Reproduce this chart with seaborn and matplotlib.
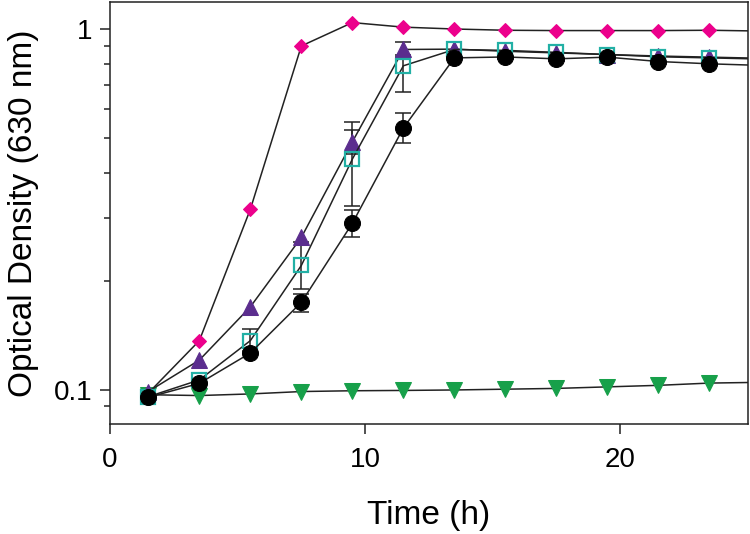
import numpy as np
import matplotlib
matplotlib.use('Agg')
import matplotlib.pyplot as plt
import seaborn as sns
from matplotlib.ticker import FixedLocator, NullFormatter

sns.set_style('ticks')
plt.rcParams['font.family'] = ['Liberation Sans', 'DejaVu Sans']
plt.rcParams['text.color'] = 'black'
plt.rcParams['axes.labelcolor'] = 'black'
plt.rcParams['xtick.labelcolor'] = 'black'
plt.rcParams['ytick.labelcolor'] = 'black'

# growth curves, OD630 (last point sits just past the axis)
time = [1.5, 3.5, 5.5, 7.5, 9.5, 11.5, 13.5, 15.5, 17.5, 19.5, 21.5, 23.5, 25.5]
pink = [0.098, 0.137, 0.317, 0.90, 1.045, 1.015, 1.003, 0.995, 0.993, 0.993, 0.993, 0.995, 0.99]
purple = [0.099, 0.121, 0.170, 0.265, 0.488, 0.880, 0.882, 0.870, 0.861, 0.852, 0.844, 0.838, 0.832]
teal = [0.0958, 0.1066, 0.137, 0.2215, 0.437, 0.793, 0.880, 0.875, 0.864, 0.852, 0.840, 0.834, 0.828]
black = [0.0954, 0.1043, 0.1266, 0.175, 0.290, 0.533, 0.834, 0.839, 0.829, 0.838, 0.815, 0.803, 0.795]
green = [0.097, 0.0965, 0.0975, 0.099, 0.0995, 0.0997, 0.100, 0.1005, 0.101, 0.102, 0.103, 0.1045, 0.105]

# error bar ends (low, high) where they are visible
purple_err_t = [9.5, 11.5]
purple_lo = [0.45, 0.84]
purple_hi = [0.553, 0.921]
teal_err_t = [5.5, 7.5, 9.5, 11.5]
teal_lo = [0.128, 0.19, 0.323, 0.671]
teal_hi = [0.148, 0.258, 0.527, 0.85]
black_err_t = [7.5, 9.5, 11.5]
black_lo = [0.165, 0.265, 0.485]
black_hi = [0.185, 0.316, 0.588]

line_col = '#222222'

fig = plt.figure(figsize=(7.5, 5.34), dpi=100)
ax = fig.add_axes([0.1467, 0.2054, 0.997 - 0.1467, 0.9963 - 0.2054])


def errbars(t, vals, lo, hi):
    t = np.array(t)
    center = np.array([vals[time.index(x)] for x in t])
    yerr = np.vstack([center - np.array(lo), np.array(hi) - center])
    ax.errorbar(t, center, yerr=yerr, fmt='none', ecolor=line_col,
                elinewidth=1.1, capsize=5.5, capthick=1.1, zorder=2)


errbars(purple_err_t, purple, purple_lo, purple_hi)
errbars(teal_err_t, teal, teal_lo, teal_hi)
errbars(black_err_t, black, black_lo, black_hi)

sns.lineplot(x=time, y=green, ax=ax, color=line_col, lw=1.1, marker='v',
             markersize=11.5, markerfacecolor='#17a04a', markeredgecolor='#17a04a', zorder=3)
sns.lineplot(x=time, y=pink, ax=ax, color=line_col, lw=1.1, marker='D',
             markersize=7, markerfacecolor='#ec008c', markeredgecolor='#ec008c', zorder=3)
sns.lineplot(x=time, y=purple, ax=ax, color=line_col, lw=1.1, marker='^',
             markersize=11, markerfacecolor='#5b2d8e', markeredgecolor='#5b2d8e', zorder=4)
sns.lineplot(x=time, y=teal, ax=ax, color=line_col, lw=1.1, marker='s',
             markersize=10.5, markerfacecolor='none', markeredgecolor='#22b0a5',
             markeredgewidth=1.6, zorder=5)
sns.lineplot(x=time, y=black, ax=ax, color=line_col, lw=1.1, marker='o',
             markersize=11.5, markerfacecolor='black', markeredgecolor='black', zorder=6)

ax.set_yscale('log')
ax.set_xlim(0, 25)
ax.set_ylim(0.0803, 1.192)
ax.set_xticks([0, 10, 20])
ax.yaxis.set_major_locator(FixedLocator([0.1, 1]))
ax.set_yticklabels(['0.1', '1'])
ax.yaxis.set_minor_locator(FixedLocator([0.09, 0.2, 0.3, 0.4, 0.5, 0.6, 0.7, 0.8, 0.9]))
ax.yaxis.set_minor_formatter(NullFormatter())

for sp in ax.spines.values():
    sp.set_color(line_col)
    sp.set_linewidth(1.1)
ax.tick_params(axis='both', which='major', length=7.5, width=1.1, color=line_col,
               labelsize=20, pad=5)
ax.tick_params(axis='x', which='major', pad=8.5)
ax.tick_params(axis='y', which='minor', length=4.5, width=1.1, color=line_col)

ax.set_xlabel('Time (h)', fontsize=24, labelpad=20)
ax.set_ylabel('Optical Density (630 nm)', fontsize=24, labelpad=11)

fig.savefig('out.png', dpi=100)
